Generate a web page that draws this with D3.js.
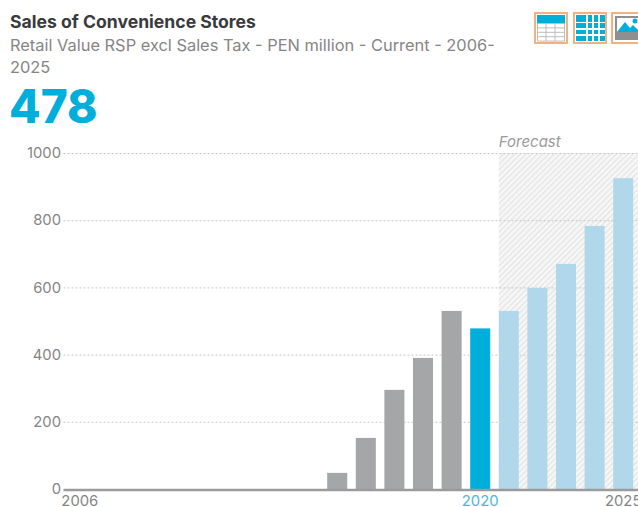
<!DOCTYPE html>
<html>
<head>
<meta charset="utf-8">
<script src="https://cdn.jsdelivr.net/npm/d3@7"></script>
<style>
html,body{margin:0;padding:0;background:#fff;overflow:hidden}
svg{display:block;font-family:Inter,"Open Sans",sans-serif}
</style>
</head>
<body>
<svg id="chart" width="638" height="507"></svg>
<script>
const years = d3.range(2006, 2026);
const salesValues = [0, 0, 0, 0, 0, 0, 0, 0, 0, 48, 152, 295, 390, 530, 478, 530, 598, 670, 783, 925];
const yTicks = [0, 200, 400, 600, 800, 1000];
const xTickYears = [2006, 2020, 2025];
const currentYear = 2020;
const firstForecastYear = 2021;

const svg = d3.select("#chart");
const labelFont = "Inter,sans-serif";

const x = d3.scaleBand().domain(years).range([65.5, 637.5]).paddingInner(0.3).paddingOuter(0.15);
const y = d3.scaleLinear().domain([0, 1000]).range([489, 153]);

// Diagonal hatching behind the forecast years
const defs = svg.append("defs");
const hatch = defs.append("pattern").attr("id", "hatch").attr("width", 4).attr("height", 4)
  .attr("patternUnits", "userSpaceOnUse").attr("patternTransform", "rotate(45)");
hatch.append("rect").attr("width", 4).attr("height", 4).attr("fill", "#f8f8f8");
hatch.append("rect").attr("width", 1.6).attr("height", 4).attr("fill", "#e6e6e6");

const forecastLeft = x(firstForecastYear);
svg.append("rect").attr("x", forecastLeft).attr("y", y(1000))
  .attr("width", 638 - forecastLeft).attr("height", y(0) - y(1000)).attr("fill", "url(#hatch)");

svg.append("text").attr("x", forecastLeft).attr("y", 146.5)
  .attr("font-size", 15).attr("font-style", "italic").attr("fill", "#9a9a9a").text("Forecast");

// Value axis with dotted gridlines
const yAxis = d3.axisLeft(y).tickValues(yTicks).tickFormat(d3.format("d")).tickSize(0).tickPadding(4);
const yG = svg.append("g").attr("transform", "translate(65,0)").call(yAxis);
yG.select(".domain").remove();
yG.selectAll("text").attr("font-size", 14.8).attr("font-family", labelFont).attr("fill", "#858585");
svg.append("g").selectAll("line").data(yTicks.filter(d => d > 0)).join("line")
  .attr("x1", 63.5).attr("x2", 638).attr("y1", d => y(d) + .5).attr("y2", d => y(d) + .5)
  .attr("stroke", "#c6c6c6").attr("stroke-dasharray", "2 2");

// Annual bars
const barColor = yr => yr === currentYear ? "#00aedb" : yr >= firstForecastYear ? "#b0d7ea" : "#a5a6a8";
svg.append("g").selectAll("rect").data(years.map((yr, i) => ({yr, v: salesValues[i]})).filter(d => d.v > 0)).join("rect")
  .attr("x", d => x(d.yr)).attr("width", x.bandwidth())
  .attr("y", d => y(d.v)).attr("height", d => y(0) - y(d.v)).attr("fill", d => barColor(d.yr));

// Baseline and year labels
svg.append("line").attr("x1", 63.5).attr("x2", 638).attr("y1", 490).attr("y2", 490)
  .attr("stroke", "#9b9b9b").attr("stroke-width", 2.5);
const xAxis = d3.axisBottom(x).tickValues(xTickYears).tickSize(0).tickPadding(4);
const xG = svg.append("g").attr("transform", "translate(0,491)").call(xAxis);
xG.select(".domain").remove();
xG.selectAll("text").attr("font-size", 14.8).attr("font-family", labelFont)
  .attr("fill", d => d === currentYear ? "#4db8dd" : "#858585");

// Heading block
svg.append("text").attr("x", 10).attr("y", 28).attr("font-size", 17.6).attr("font-weight", 700)
  .attr("fill", "#3a3a3c").text("Sales of Convenience Stores");
svg.append("text").attr("x", 10).attr("y", 51).attr("font-size", 16.4).attr("fill", "#858585")
  .text("Retail Value RSP excl Sales Tax - PEN million - Current - 2006-");
svg.append("text").attr("x", 10).attr("y", 73).attr("font-size", 16.4).attr("fill", "#858585").text("2025");
svg.append("text").attr("x", 9).attr("y", 123).attr("font-size", 46).attr("font-weight", 800)
  .attr("fill", "#00aedb").text("478");

// Toolbar icons: table, grid, image
const icon = svg.append("g");
[535, 574, 612].forEach(left => {
  icon.append("rect").attr("x", left).attr("y", 13).attr("width", 32).attr("height", 30)
    .attr("fill", "#fff").attr("stroke", "#f2b17e").attr("stroke-width", 2);
});
// table icon
icon.append("rect").attr("x", 537).attr("y", 15).attr("width", 28).attr("height", 8).attr("fill", "#00aedb");
d3.range(5).forEach(i => icon.append("line").attr("x1", 537.5).attr("x2", 564.5)
  .attr("y1", 23.5 + i * 4.4).attr("y2", 23.5 + i * 4.4).attr("stroke", "#bdbdbd"));
[537.5, 546, 555, 564.5].forEach(px => icon.append("line").attr("x1", px).attr("x2", px)
  .attr("y1", 23).attr("y2", 41).attr("stroke", "#bdbdbd"));
// grid icon
const gridXs = [576, 588, 594, 600], gridWs = [10, 4, 4, 5];
const gridYs = [15, 23, 30, 36], gridHs = [7, 5, 4, 5];
gridXs.forEach((gx, i) => gridYs.forEach((gy, j) => icon.append("rect")
  .attr("x", gx).attr("y", gy).attr("width", gridWs[i]).attr("height", gridHs[j]).attr("fill", "#00aedb")));
// image icon
icon.append("rect").attr("x", 615).attr("y", 16).attr("width", 23).attr("height", 24).attr("fill", "#8f8f8f");
icon.append("rect").attr("x", 617).attr("y", 18).attr("width", 21).attr("height", 14).attr("fill", "#fff");
icon.append("path").attr("d", d3.line()([[617, 32], [625, 22], [630, 28], [633, 25], [638, 30], [638, 32]])).attr("fill", "#00aedb");
icon.append("circle").attr("cx", 635).attr("cy", 21).attr("r", 2.5).attr("fill", "#00aedb");
</script>
</body>
</html>
